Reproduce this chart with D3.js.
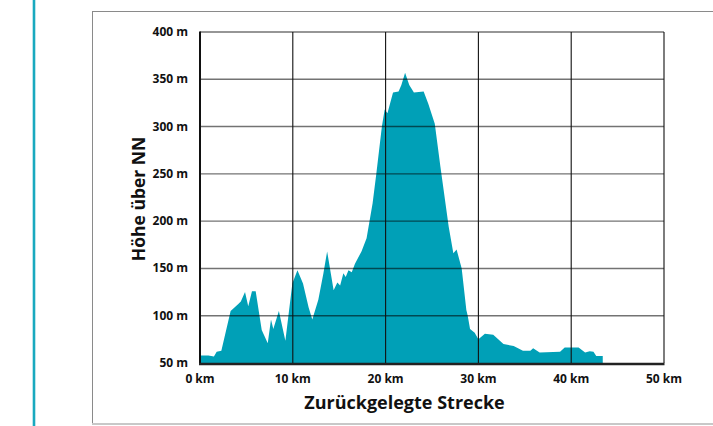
<!DOCTYPE html>
<html lang="de">
<head>
<meta charset="utf-8">
<title>Höhenprofil</title>
<script src="https://cdn.jsdelivr.net/npm/d3@7"></script>
<style>
  body { margin: 0; background: #fff; }
  text { font-family: "Open Sans", "DejaVu Sans", sans-serif; font-weight: 700; fill: #111; }
</style>
</head>
<body>
<div id="chart"></div>
<script>
// distance (km) and elevation (m)
var km = [0, 0.9, 1.5, 1.8, 2.3, 3.3, 4.1, 4.4, 4.85, 5.2, 5.6, 6.0, 6.65, 7.3, 7.65, 7.9, 8.5, 9.2,
          9.95, 10.5, 11.1, 11.7, 12.1, 12.75, 13.3, 13.7, 14.4, 14.8, 15.1, 15.45, 15.7, 16.0, 16.35, 16.7,
          17.4, 17.95, 18.6, 19.0, 19.6, 19.9, 20.2, 20.8, 21.4, 21.7, 22.1, 22.55, 23.05, 24.1, 24.6, 25.3,
          25.9, 26.8, 27.3, 27.65, 28.2, 28.7, 28.85, 29.1, 29.6, 30.0, 30.7, 31.6, 32.7, 33.8, 34.8, 35.6,
          35.9, 36.6, 38.8, 39.3, 40.8, 41.5, 42.0, 42.4, 42.7, 43.4];
var hoehe = [58, 58, 57, 62, 63, 105, 112, 115, 125, 110, 126, 126, 85, 71, 96, 86, 105, 73.5,
             134, 148, 134, 109, 96, 117, 145, 168, 127, 135, 132, 145, 141, 148, 146, 155,
             168, 182, 219, 250, 300, 318, 314, 336, 337, 344, 357, 344, 336, 337, 324, 303,
             258, 194, 166, 170, 150, 106, 100, 86, 82, 75, 81, 80, 70, 68, 63, 63,
             65.5, 61, 62, 66.5, 66.5, 61, 62.5, 62, 57.5, 57.5];
var xTicks = [0, 10, 20, 30, 40, 50];
var yTicks = [50, 100, 150, 200, 250, 300, 350, 400];

var W = 713, H = 426;
var teal = "#00a0b7";

var svg = d3.select("#chart").append("svg")
    .attr("width", W)
    .attr("height", H);

// side stripe and frame
svg.append("line")
    .attr("x1", 34).attr("x2", 34).attr("y1", 0).attr("y2", H)
    .attr("stroke", "#19a9bf").attr("stroke-width", 2.6);
svg.append("rect")
    .attr("x", 92.5).attr("y", 11.5)
    .attr("width", 640).attr("height", 412)
    .attr("fill", "none").attr("stroke", "#8a8a8a").attr("stroke-width", 1);
svg.append("line")
    .attr("x1", 92).attr("x2", W).attr("y1", 424).attr("y2", 424)
    .attr("stroke", "#c8c8c8").attr("stroke-width", 2);

var x = d3.scaleLinear().domain([0, 50]).range([200, 664]);
var y = d3.scaleLinear().domain([50, 400]).range([363, 32]);

var data = km.map(function(d, i) { return { km: d, m: hoehe[i] }; });

// profile area
var area = d3.area()
    .x(function(d) { return x(d.km); })
    .y0(y(50))
    .y1(function(d) { return y(d.m); });

svg.append("path")
    .datum(data)
    .attr("d", area)
    .attr("fill", teal);

// horizontal grid lines (over the area)
svg.append("g")
    .selectAll("line")
    .data(yTicks.slice(1))
    .enter().append("line")
    .attr("x1", x(0)).attr("x2", x(50))
    .attr("y1", function(d) { return y(d); })
    .attr("y2", function(d) { return y(d); })
    .attr("stroke", "rgba(0,0,0,0.55)")
    .attr("stroke-width", 1.4);

// vertical grid lines
svg.append("g")
    .selectAll("line")
    .data(xTicks.slice(1))
    .enter().append("line")
    .attr("x1", function(d) { return x(d); })
    .attr("x2", function(d) { return x(d); })
    .attr("y1", y(400)).attr("y2", y(50))
    .attr("stroke", "#111")
    .attr("stroke-width", 1.1);

// axes lines
svg.append("line")
    .attr("x1", x(0)).attr("x2", x(0)).attr("y1", y(400) - 0.5).attr("y2", y(50) + 2)
    .attr("stroke", "#111").attr("stroke-width", 2);
svg.append("line")
    .attr("x1", x(0) - 1).attr("x2", x(50) + 0.5).attr("y1", y(50) + 1).attr("y2", y(50) + 1)
    .attr("stroke", "#222").attr("stroke-width", 2.6);

// tick labels
svg.append("g")
    .selectAll("text")
    .data(yTicks)
    .enter().append("text")
    .attr("x", 188)
    .attr("y", function(d) { return y(d) + 4; })
    .attr("text-anchor", "end")
    .attr("font-size", "12px")
    .text(function(d) { return d + " m"; });

svg.append("g")
    .selectAll("text")
    .data(xTicks)
    .enter().append("text")
    .attr("x", function(d) { return x(d); })
    .attr("y", 383)
    .attr("text-anchor", "middle")
    .attr("font-size", "12px")
    .text(function(d) { return d + " km"; });

// axis titles
svg.append("text")
    .attr("x", 404.5)
    .attr("y", 408.5)
    .attr("text-anchor", "middle")
    .attr("font-size", "18px")
    .text("Zurückgelegte Strecke");

svg.append("text")
    .attr("transform", "translate(144.5,199) rotate(-90)")
    .attr("text-anchor", "middle")
    .attr("font-size", "17.5px")
    .text("Höhe über NN");
</script>
</body>
</html>
